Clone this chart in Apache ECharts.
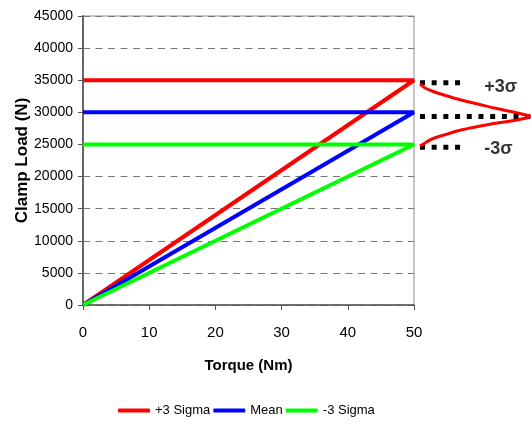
<!DOCTYPE html>
<html><head><meta charset="utf-8">
<script src="https://cdn.jsdelivr.net/npm/echarts@6/dist/echarts.min.js"></script>
<style>html,body{margin:0;padding:0;background:#fff}#c{width:531px;height:426px}</style>
</head><body><div id="c"></div>
<script>
// ---- data ----
const torque = [0, 50, 0];
const plus3Sigma = [0, 35000, 35000];
const meanLoad = [0, 30000, 30000];
const minus3Sigma = [0, 25000, 25000];
const xTicks = [0, 10, 20, 30, 40, 50];
const yTicks = [0, 5000, 10000, 15000, 20000, 25000, 30000, 35000, 40000, 45000];
// distribution sketched on the right (load vs relative frequency, 0-100)
const curveLoad = [34413, 33790, 33322, 32699, 31920, 31298, 30675, 30130, 29663, 29351,
                   29040, 28650, 28261, 27794, 27249, 26471, 25848, 25225, 24758];
const curveFreq = [5.1, 9.4, 15.4, 25.6, 40.2, 54.7, 68.4, 82.9, 94.0, 99.1,
                   94.0, 82.9, 68.4, 54.7, 40.2, 25.6, 15.4, 9.4, 5.1];
const markLoads = [34600, 29350, 24550];
const markEnds = [40, 100, 40];
const markStart = 5.1;
const sigmaLabels = ['+3σ', '-3σ'];
const sigmaLabelLoads = [33900, 24300];
const sigmaLabelFreq = 60;

const FONT = "'Liberation Sans', Arial, sans-serif";
const zip = (xs, ys) => xs.map((x, i) => [x, ys[i]]);

const chart = echarts.init(document.getElementById('c'), null, {renderer: 'canvas'});

function mainLine(name, vals, color) {
  return {
    name, type: 'line', xAxisIndex: 0, yAxisIndex: 0,
    data: zip(torque, vals), symbol: 'none', silent: true,
    itemStyle: {color}, lineStyle: {color, width: 4}, z: 3
  };
}

const series = [
  mainLine('+3 Sigma', plus3Sigma, '#ff0000'),
  mainLine('Mean', meanLoad, '#0000ff'),
  mainLine('-3 Sigma', minus3Sigma, '#00ff00')
];
markLoads.forEach((v, i) => {
  series.push({
    type: 'line', xAxisIndex: 1, yAxisIndex: 1, symbol: 'none', silent: true,
    data: [[markStart, v], [markEnds[i], v]],
    lineStyle: {color: '#000', width: 5, type: [5, 6.7]}, z: 2
  });
});
series.push({
  type: 'line', xAxisIndex: 1, yAxisIndex: 1, symbol: 'none', silent: true,
  data: zip(curveFreq, curveLoad), smooth: 0.3,
  lineStyle: {color: '#ff0000', width: 3}, z: 3
});
series.push({
  type: 'scatter', xAxisIndex: 1, yAxisIndex: 1, symbolSize: 0, silent: true,
  data: sigmaLabels.map((t, i) => ({value: [sigmaLabelFreq, sigmaLabelLoads[i]], name: t})),
  label: {show: true, position: 'right', distance: 0, formatter: p => p.name,
          fontFamily: FONT, fontWeight: 'bold', fontSize: 18, color: '#000'}
});

chart.setOption({
  animation: false,
  backgroundColor: '#fff',
  textStyle: {fontFamily: FONT},
  grid: [
    {left: 83, right: 117, top: 16, bottom: 121, outerBoundsMode: 'none', containLabel: false,
     show: true, borderColor: '#8c8c8c', borderWidth: 1, backgroundColor: 'transparent'},
    {left: 414, right: 0, top: 16, bottom: 121, outerBoundsMode: 'none', containLabel: false}
  ],
  xAxis: [{
    type: 'value', gridIndex: 0, min: xTicks[0], max: xTicks[xTicks.length - 1], interval: 10,
    name: 'Torque (Nm)', nameLocation: 'middle', nameGap: 53, nameMoveOverlap: false,
    nameTextStyle: {fontFamily: FONT, fontWeight: 'bold', fontSize: 15, color: '#000'},
    axisLine: {show: true, lineStyle: {color: '#555', width: 1.5}},
    axisTick: {show: true, length: 5, inside: false, lineStyle: {color: '#555'}},
    axisLabel: {fontFamily: FONT, fontSize: 15, color: '#000', margin: 20, formatter: v => String(v)},
    splitLine: {show: false}
  }, {
    type: 'value', gridIndex: 1, min: 0, max: 100, show: false
  }],
  yAxis: [{
    type: 'value', gridIndex: 0, min: yTicks[0], max: yTicks[yTicks.length - 1], interval: 5000,
    name: 'Clamp Load (N)', nameLocation: 'middle', nameGap: 52, nameRotate: 90, nameMoveOverlap: false,
    nameTextStyle: {fontFamily: FONT, fontWeight: 'bold', fontSize: 17, color: '#000'},
    axisLine: {show: true, lineStyle: {color: '#666', width: 2}},
    axisTick: {show: true, length: 5, inside: false, lineStyle: {color: '#555'}},
    axisLabel: {fontFamily: FONT, fontSize: 14, color: '#000', margin: 10, formatter: v => String(v)},
    splitLine: {show: true, lineStyle: {color: '#777', width: 1, type: [7, 5.5]}}
  }, {
    type: 'value', gridIndex: 1, min: 0, max: 45000, show: false
  }],
  legend: {
    data: ['+3 Sigma', 'Mean', '-3 Sigma'],
    left: 118, top: 404, padding: 0,
    icon: 'roundRect', itemWidth: 32, itemHeight: 4, itemGap: 3,
    textStyle: {fontFamily: FONT, fontSize: 13, color: '#000'}
  },
  series
});
</script></body></html>
